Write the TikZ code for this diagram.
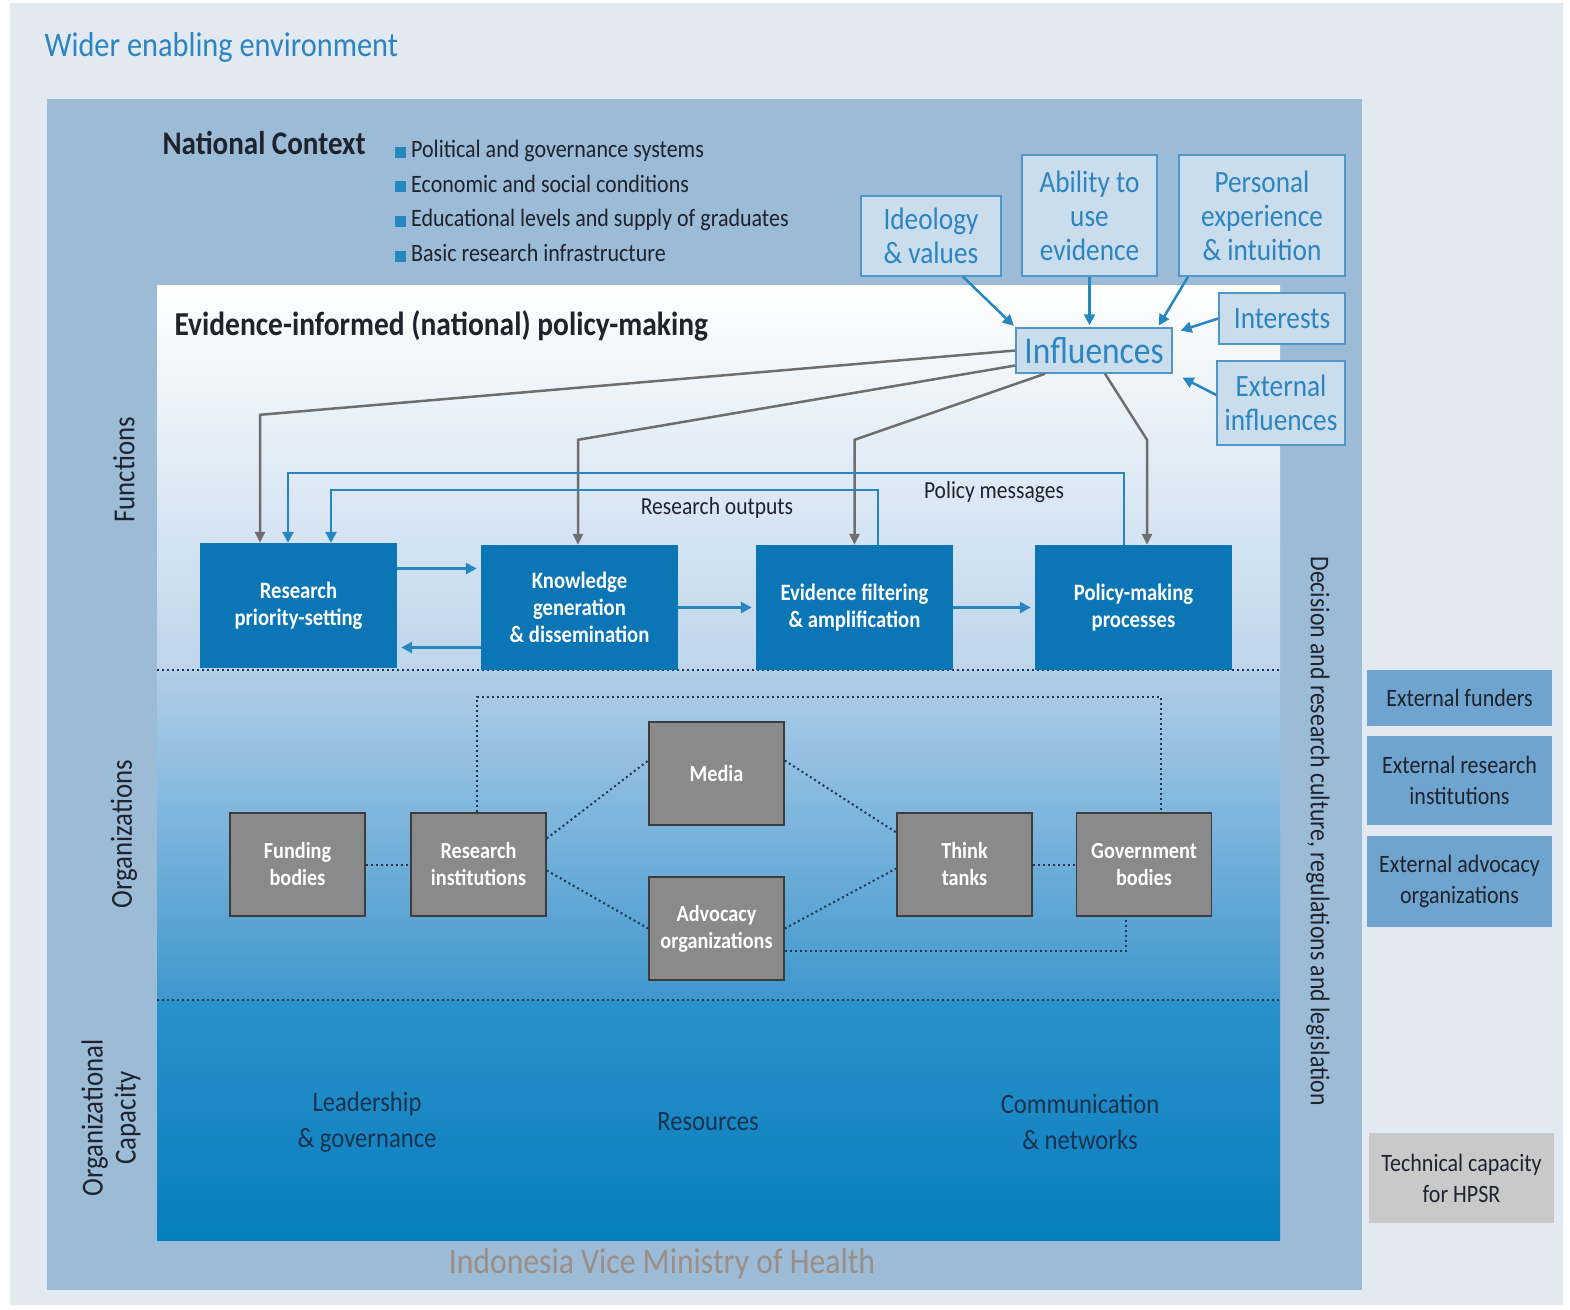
\documentclass[tikz,border=0pt]{standalone}
\usepackage{fontspec}
\setmainfont{Carlito}[FakeStretch=0.88]
\usetikzlibrary{arrows.meta, positioning, calc}

\definecolor{envbg}{RGB}{226,233,241}
\definecolor{ctxblue}{RGB}{155,187,214}
\definecolor{titleblue}{RGB}{44,132,192}
\definecolor{inflfill}{RGB}{201,221,237}
\definecolor{inflline}{RGB}{80,150,200}
\definecolor{procblue}{RGB}{11,118,181}
\definecolor{arrowblue}{RGB}{38,134,192}
\definecolor{linegrey}{RGB}{110,110,110}
\definecolor{orggrey}{RGB}{138,138,138}
\definecolor{orgedge}{RGB}{60,60,60}
\definecolor{dotnavy}{RGB}{30,55,85}
\definecolor{extfill}{RGB}{111,164,206}
\definecolor{techgrey}{RGB}{201,201,201}
\definecolor{darktext}{RGB}{30,35,45}
\definecolor{captext}{RGB}{25,50,80}
\definecolor{wmgrey}{RGB}{155,142,134}
\definecolor{funcbot}{RGB}{190,213,235}
\definecolor{orgtop}{RGB}{178,206,232}
\definecolor{orgbot}{RGB}{62,151,206}
\definecolor{captop}{RGB}{42,146,202}
\definecolor{capbot}{RGB}{7,126,190}

\newcommand{\fs}[2]{\fontsize{#1}{#2}\selectfont}
\newcommand{\bul}{\textcolor{arrowblue}{\rule{11pt}{11pt}}\hspace{5pt}}

\begin{document}
\begin{tikzpicture}[
  x=1pt, y=-1pt,
  infl/.style={draw=inflline, line width=1.5pt, fill=inflfill, text=titleblue,
               font=\fs{31}{34}, align=center, inner sep=0pt},
  proc/.style={fill=procblue, text=white, font=\bfseries\fs{23.5}{27}, align=center,
               minimum width=197pt, minimum height=125pt, inner sep=0pt},
  org/.style={draw=orgedge, line width=1.5pt, fill=orggrey, text=white,
              font=\bfseries\fs{23}{27}, align=center,
              minimum width=135pt, minimum height=103pt, inner sep=0pt},
  ext/.style={fill=extfill, text=darktext, font=\fs{25}{31}, align=center,
              minimum width=185pt, inner sep=0pt},
  barrow/.style={-{Triangle[length=11pt,width=11pt]}, arrowblue, line width=3pt},
  gline/.style={-{Triangle[length=11pt,width=10pt]}, linegrey, line width=2.5pt},
  dotline/.style={dotnavy, line width=2pt, dash pattern=on 2pt off 3pt},
  side/.style={text=darktext, font=\fs{30.5}{33}, align=center},
]
\useasboundingbox (0,0) rectangle (1570,1309);

% Backgrounds
\fill[white] (0,0) rectangle (1570,1309);
\fill[envbg] (10,3) rectangle (1563,1305);
\fill[ctxblue] (47,99) rectangle (1362,1290);
\shade[top color=white, bottom color=funcbot] (157,285) rectangle (1280,670);
\shade[top color=orgtop, bottom color=orgbot] (157,670) rectangle (1280,1000);
\shade[top color=captop, bottom color=capbot] (157,1000) rectangle (1280,1240);
\draw[dotline] (157,670) -- (1280,670);
\draw[dotline] (157,1000) -- (1280,1000);

% Titles
\node[anchor=west, text=titleblue, font=\fs{34.5}{38}] (wider) at (41,47) {Wider enabling environment};
\node[anchor=west, text=darktext, font=\bfseries\fs{33}{36}] (natctx) at (159,143) {National Context};
\node[anchor=west, text=darktext, font=\fs{25}{34.7}, align=left, inner sep=0pt] (ctxlist) at (395,201)
{\bul Political and governance systems\\
\bul Economic and social conditions\\
\bul Educational levels and supply of graduates\\
\bul Basic research infrastructure};
\node[anchor=west, text=darktext, font=\bfseries\fs{33.5}{36}] (eipm) at (171,326) {Evidence-informed (national) policy-making};

% Influences
\node[infl, minimum width=140pt, minimum height=80pt] (ideo) at (931,236) {Ideology\\\& values};
\node[infl, minimum width=135pt, minimum height=121pt] (ability) at (1089.5,215.5) {Ability to\\use\\evidence};
\node[infl, minimum width=166pt, minimum height=121pt] (pers) at (1262,215.5) {Personal\\experience\\\& intuition};
\node[infl, minimum width=126pt, minimum height=51pt] (interests) at (1282,318.5) {Interests};
\node[infl, minimum width=128pt, minimum height=84pt] (extinf) at (1281,403) {External\\influences};
\node[infl, minimum width=156pt, minimum height=45pt, font=\fs{38}{40}] (influ) at (1094,350.5) {Influences};

\draw[barrow, line width=2.5pt, shorten >=2pt] ([xshift=32pt]ideo.south) -- (influ.north west);
\draw[barrow, line width=2.5pt, shorten >=2pt] (ability.south) -- (ability.south |- influ.north);
\draw[barrow, line width=2.5pt, shorten >=2pt] ([xshift=-74pt]pers.south) -- ([xshift=-15pt]influ.north east);
\draw[barrow, line width=2.5pt, shorten >=2pt] (interests.west) -- ([xshift=6pt,yshift=-4pt]influ.north east);
\draw[barrow, line width=2.5pt, shorten >=2pt] ([yshift=8pt]extinf.west) -- ([xshift=8pt,yshift=-3pt]influ.south east);

% Functions
\node[proc] (rps) at (298.5,605.5) {Research\\priority-setting};
\node[proc] (kg) at (579.5,607.5) {Knowledge\\generation\\\& dissemination};
\node[proc] (ef) at (854.5,607.5) {Evidence filtering\\\& amplification};
\node[proc] (pm) at (1133.5,607.5) {Policy-making\\processes};

\draw[barrow, shorten >=4pt] ([yshift=37pt]rps.east) -- ([yshift=37pt]rps.east -| kg.west);
\draw[barrow, shorten >=4pt] ([yshift=-40pt]kg.west) -- ([yshift=-40pt]kg.west -| rps.east);
\draw[barrow, shorten >=4pt] (kg.east) -- (ef.west);
\draw[barrow, shorten >=4pt] (ef.east) -- (pm.west);

\draw[gline] (influ.west) -- ([xshift=-38.5pt,yshift=128pt]rps.north) -- ([xshift=-38.5pt]rps.north);
\draw[gline] ([yshift=-15pt]influ.west) -- ([xshift=-1.5pt,yshift=105pt]kg.north) -- ([xshift=-1.5pt]kg.north);
\draw[gline] ([xshift=-49pt]influ.south) -- ([yshift=105pt]ef.north) -- (ef.north);
\draw[gline] ([xshift=11pt]influ.south) -- ([xshift=13.5pt,yshift=105pt]pm.north) -- ([xshift=13.5pt]pm.north);

\draw[barrow, line width=2.5pt] ([xshift=-9.5pt]pm.north) -- ++(0,-72) -| ([xshift=-10.5pt]rps.north);
\draw[barrow, line width=2.5pt] ([xshift=23.5pt]ef.north) -- ++(0,-55) -| ([xshift=32.5pt]rps.north);
\node[text=darktext, font=\fs{24.5}{28}] (resout) at (717,508) {Research outputs};
\node[text=darktext, font=\fs{24.5}{28}] (polmsg) at (994,492) {Policy messages};

% Organizations
\node[org] (fund) at (297.5,864.5) {Funding\\bodies};
\node[org] (res) at (478.5,864.5) {Research\\institutions};
\node[org] (media) at (716.5,773.5) {Media};
\node[org] (adv) at (716.5,928.5) {Advocacy\\organizations};
\node[org] (think) at (964.5,864.5) {Think\\tanks};
\node[org] (gov) at (1144,864.5) {Government\\bodies};

\draw[dotline] (fund.east) -- (res.west);
\draw[dotline] ([yshift=26pt]res.east) -- ([yshift=13pt]media.west);
\draw[dotline] ([yshift=-6pt]res.east) -- (adv.west);
\draw[dotline] ([yshift=13pt]media.east) -- ([yshift=32pt]think.west);
\draw[dotline] (adv.east) -- ([yshift=-4pt]think.west);
\draw[dotline] (think.east) -- (gov.west);
\draw[dotline] ([xshift=-2pt]res.north) -- ++(0,-115) -| ([xshift=17pt]gov.north);
\draw[dotline] ([yshift=-22pt]adv.east) -| ([xshift=-18pt]gov.south);

% Organizational capacity
\node[text=captext, font=\fs{28}{36}, align=center] (lead) at (367,1122) {Leadership\\\& governance};
\node[text=captext, font=\fs{28}{36}] (resources) at (708,1122) {Resources};
\node[text=captext, font=\fs{28}{36}, align=center] (comm) at (1080,1122) {Communication\\\& networks};

% Side labels
\node[side, rotate=90] (functions) at (124,470) {Functions};
\node[side, rotate=90] (organizations) at (124,834) {Organizations};
\node[side, rotate=90] (orgcap) at (111,1118) {Organizational\\Capacity};
\node[side, rotate=-90, font=\fs{27}{30}] (culture) at (1318,831) {Decision and research culture, regulations and legislation};

% External
\node[ext, minimum height=56pt] (extfund) at (1459.5,698) {External funders};
\node[ext, minimum height=89pt] (extres) at (1459.5,780.5) {External research\\institutions};
\node[ext, minimum height=91pt] (extadv) at (1459.5,881.5) {External advocacy\\organizations};
\node[ext, minimum height=90pt, fill=techgrey] (tech) at (1461.5,1178) {Technical capacity\\for HPSR};

\node[text=wmgrey, font=\fs{36}{38}] (mark) at (662,1264) {Indonesia Vice Ministry of Health};
\end{tikzpicture}
\end{document}
